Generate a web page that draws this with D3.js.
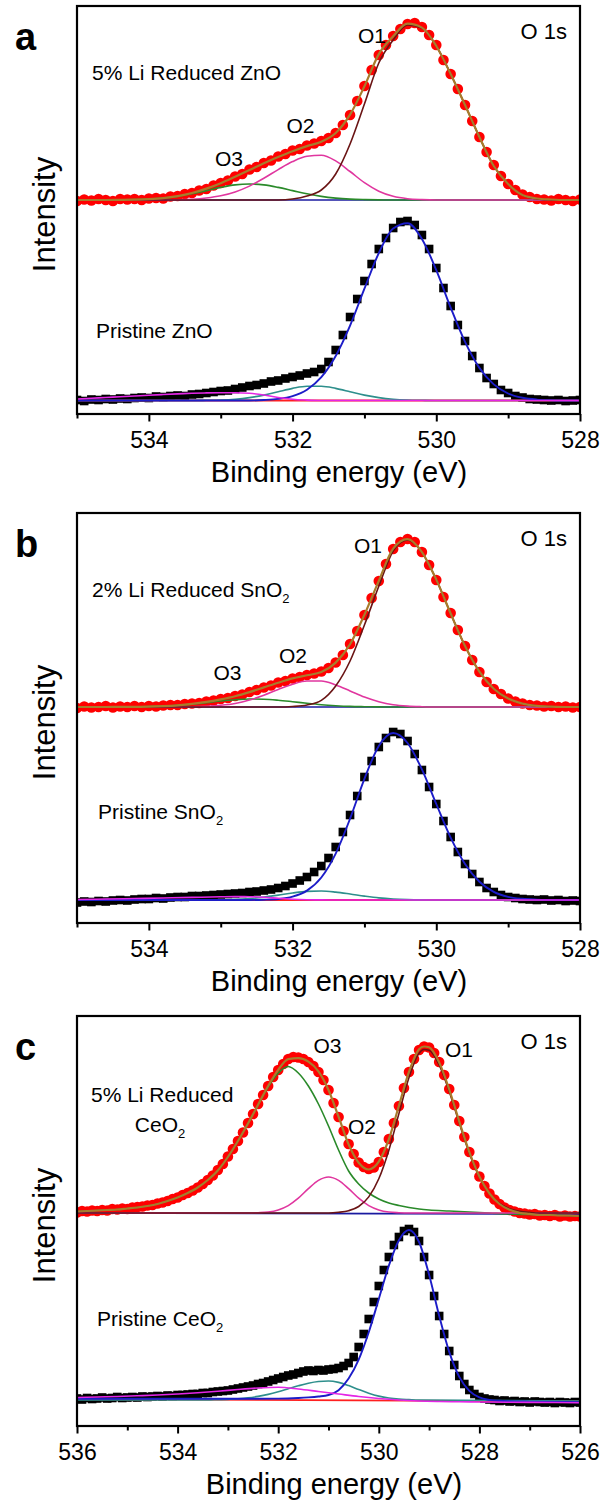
<!DOCTYPE html>
<html><head><meta charset="utf-8">
<script src="https://cdn.jsdelivr.net/npm/d3@7"></script>
<style>
html,body{margin:0;padding:0;background:#fff;}
svg{display:block;}
text{font-family:"Liberation Sans",Arial,Helvetica,sans-serif;fill:#000;}
</style></head><body>
<svg id="chart" width="603" height="1506"></svg>
<script>
// ================= DATA (intensity in arbitrary units, energy in eV) =================
const dataStep = 0.1;           // eV spacing of measured points
// ---- panel a : ZnO ----
const aStart = 535.0;
const aTopCounts = [
 21.3,21.45,21.35,21.5,21.4,21.3,21.5,21.45,21.5,21.4,
 21.55,21.6,21.55,21.75,21.8,22.0,22.1,22.35,22.5,22.85,
 23.1,23.35,23.75,24.0,24.45,24.7,25.1,25.35,25.75,26.0,
 26.35,26.5,26.85,27.05,27.3,27.6,28.1,28.9,29.9,31.3,
 32.8,34.4,35.9,36.9,37.8,38.5,39.0,39.1,38.7,37.9,
 36.9,35.4,34.0,32.5,30.9,29.3,27.7,26.2,24.9,23.8,
 23.0,22.4,21.95,21.7,21.5,21.45,21.35,21.5,21.4,21.3,
 21.45];
const aBotCounts = [
 1.4,1.3,1.45,1.4,1.5,1.45,1.55,1.5,1.6,1.65,
 1.6,1.75,1.7,1.8,1.85,1.8,1.95,2.0,2.1,2.2,
 2.3,2.35,2.5,2.65,2.8,2.9,3.05,3.25,3.35,3.55,
 3.7,3.85,4.05,4.2,4.5,5.2,6.4,7.9,9.7,11.5,
 13.3,15.0,16.5,17.6,18.6,19.2,19.3,18.9,17.9,16.5,
 14.6,12.6,10.8,8.9,7.3,5.8,4.6,3.6,3.0,2.4,
 2.1,1.8,1.65,1.5,1.45,1.4,1.35,1.4,1.3,1.35,
 1.4];
const aTopEnvelope = [[535.0,21.4],[534.6,21.4],[534.4,21.41],[534.2,21.44],[534.0,21.49],[533.8,21.59],[533.6,21.79],[533.4,22.1],[533.2,22.54],[533.0,23.08],[532.8,23.72],[532.6,24.39],[532.4,25.08],[532.2,25.7],[532.0,26.28],[531.8,26.79],[531.6,27.23],[531.4,28.1],[531.2,29.94],[531.0,32.77],[530.8,35.99],[530.6,37.77],[530.4,39.03],[530.2,38.64],[530.0,36.8],[529.8,34.0],[529.6,30.9],[529.4,27.7],[529.2,24.8],[529.0,23.0],[528.8,21.9],[528.6,21.55],[528.4,21.45],[528.2,21.4],[528.0,21.4]];
const aTopO1 = [[535.0,21.4],[532.2,21.4],[532.0,21.5],[531.8,21.8],[531.6,22.4],[531.4,24.0],[531.2,27.0],[531.0,31.0],[530.8,35.1],[530.6,37.4],[530.4,38.9],[530.2,38.6],[530.0,36.8],[529.8,34.0],[529.6,30.9],[529.4,27.7],[529.2,24.8],[529.0,23.0],[528.8,21.9],[528.6,21.5],[528.4,21.4],[528.0,21.4]];
const aTopO2 = [[535.0,21.4],[533.6,21.43],[533.4,21.48],[533.2,21.6],[533.0,21.82],[532.8,22.21],[532.6,22.79],[532.4,23.57],[532.2,24.44],[532.0,25.24],[531.8,25.77],[531.6,25.87],[531.4,25.31],[531.2,24.25],[531.0,23.13],[530.8,22.28],[530.6,21.77],[530.4,21.53],[530.2,21.44],[530.0,21.4],[528.0,21.4]];
const aTopO3 = [[535.0,21.4],[534.6,21.4],[534.4,21.41],[534.2,21.44],[534.0,21.49],[533.8,21.59],[533.6,21.76],[533.4,22.02],[533.2,22.34],[533.0,22.66],[532.8,22.91],[532.6,23.0],[532.4,22.91],[532.2,22.66],[532.0,22.34],[531.8,22.02],[531.6,21.76],[531.4,21.59],[531.2,21.49],[531.0,21.44],[530.8,21.41],[530.6,21.4],[528.0,21.4]];
const aTopBaseline = [21.4, 21.4];
const aBotMain = [[535.0,1.35],[532.6,1.35],[532.4,1.4],[532.2,1.51],[532.0,1.79],[531.8,2.43],[531.6,3.68],[531.4,5.8],[531.2,8.84],[531.0,12.53],[530.8,16.09],[530.6,18.54],[530.4,19.08],[530.2,17.51],[530.0,14.38],[529.8,10.64],[529.6,7.21],[529.4,4.61],[529.2,2.96],[529.0,2.05],[528.8,1.62],[528.6,1.44],[528.4,1.38],[528.2,1.35],[528.0,1.35]];
const aBotTeal = [[535.0,1.35],[533.4,1.35],[533.2,1.37],[533.0,1.4],[532.8,1.48],[532.6,1.64],[532.4,1.89],[532.2,2.23],[532.0,2.56],[531.8,2.77],[531.6,2.77],[531.4,2.56],[531.2,2.23],[531.0,1.89],[530.8,1.64],[530.6,1.48],[530.4,1.4],[530.2,1.37],[530.0,1.35],[528.0,1.35]];
const aBotMagenta = [[535.0,1.5],[534.8,1.57],[534.6,1.65],[534.4,1.72],[534.2,1.8],[534.0,1.88],[533.8,1.95],[533.6,2.01],[533.4,2.07],[533.2,2.11],[533.0,2.13],[532.8,2.13],[532.6,2.07],[532.4,1.9],[532.2,1.65],[532.0,1.47],[531.8,1.39],[531.6,1.35],[528.0,1.35]];
const aBotBaseline = [1.35, 1.35];
// ---- panel b : SnO2 ----
const bStart = 535.0;
const bTopCounts = [
 21.5,21.65,21.55,21.6,21.7,21.55,21.65,21.6,21.7,21.6,
 21.7,21.65,21.75,21.8,21.8,21.9,21.95,22.0,22.15,22.25,
 22.4,22.5,22.7,22.85,23.1,23.3,23.55,23.75,24.05,24.2,
 24.45,24.6,24.8,24.95,25.15,25.5,26.05,26.8,27.9,29.2,
 30.8,32.5,34.2,35.9,37.4,38.1,38.4,38.1,37.1,35.8,
 34.3,32.6,31.0,29.3,27.7,26.3,25.1,24.1,23.4,22.9,
 22.45,22.15,21.95,21.8,21.75,21.65,21.7,21.6,21.65,21.55,
 21.6];
const bBotCounts = [
 2.05,2.15,2.1,2.2,2.15,2.25,2.3,2.25,2.35,2.4,
 2.4,2.5,2.45,2.55,2.6,2.6,2.7,2.7,2.75,2.8,
 2.85,2.9,2.95,3.0,3.1,3.15,3.25,3.35,3.5,3.7,
 3.95,4.25,4.6,5.1,5.7,6.5,7.6,9.1,10.8,12.7,
 14.6,16.2,17.6,18.5,19.1,18.9,18.2,16.9,15.3,13.6,
 11.9,10.2,8.6,7.1,5.9,4.9,4.1,3.5,3.1,2.8,
 2.6,2.5,2.4,2.35,2.3,2.35,2.25,2.3,2.2,2.25,
 2.2];
const bTopEnvelope = [[535.0,21.6],[534.6,21.6],[534.4,21.61],[534.2,21.62],[534.0,21.64],[533.8,21.69],[533.6,21.77],[533.4,21.91],[533.2,22.11],[533.0,22.37],[532.8,22.68],[532.6,23.09],[532.4,23.56],[532.2,24.03],[532.0,24.46],[531.8,24.77],[531.6,25.09],[531.4,26.04],[531.2,27.87],[531.0,30.82],[530.8,34.21],[530.6,37.43],[530.4,38.38],[530.2,37.09],[530.0,34.34],[529.8,30.95],[529.6,27.7],[529.4,25.14],[529.2,23.43],[529.0,22.44],[528.8,21.94],[528.6,21.72],[528.4,21.64],[528.2,21.6],[528.0,21.6]];
const bTopO1 = [[535.0,21.6],[532.2,21.6],[532.0,21.65],[531.8,21.8],[531.6,22.26],[531.4,23.7],[531.2,26.2],[531.0,29.8],[530.8,33.67],[530.6,37.2],[530.4,38.3],[530.2,37.06],[530.0,34.34],[529.8,30.95],[529.6,27.7],[529.4,25.14],[529.2,23.43],[529.0,22.44],[528.8,21.94],[528.6,21.72],[528.4,21.64],[528.2,21.6],[528.0,21.6]];
const bTopO2 = [[535.0,21.6],[533.6,21.61],[533.4,21.62],[533.2,21.67],[533.0,21.77],[532.8,21.95],[532.6,22.29],[532.4,22.78],[532.2,23.35],[532.0,23.88],[531.8,24.2],[531.6,24.2],[531.4,23.81],[531.2,23.21],[531.0,22.59],[530.8,22.13],[530.6,21.83],[530.4,21.69],[530.2,21.63],[530.0,21.6],[528.0,21.6]];
const bTopO3 = [[535.0,21.6],[534.6,21.6],[534.4,21.61],[534.2,21.62],[534.0,21.64],[533.8,21.69],[533.6,21.77],[533.4,21.89],[533.2,22.04],[533.0,22.2],[532.8,22.33],[532.6,22.4],[532.4,22.38],[532.2,22.28],[532.0,22.13],[531.8,21.97],[531.6,21.83],[531.4,21.73],[531.2,21.66],[531.0,21.63],[530.8,21.61],[530.6,21.6],[528.0,21.6]];
const bTopBaseline = [21.6, 21.6];
const bBotMain = [[535.0,2.3],[532.6,2.3],[532.4,2.33],[532.2,2.4],[532.0,2.63],[531.8,3.24],[531.6,4.55],[531.4,6.94],[531.2,10.43],[531.0,14.42],[530.8,17.71],[530.6,19.0],[530.4,18.0],[530.2,15.36],[530.0,11.9],[529.8,8.53],[529.6,5.89],[529.4,4.12],[529.2,3.12],[529.0,2.62],[528.8,2.42],[528.6,2.34],[528.4,2.3],[528.0,2.3]];
const bBotTeal = [[535.0,2.3],[533.4,2.3],[533.2,2.31],[533.0,2.32],[532.8,2.36],[532.6,2.45],[532.4,2.59],[532.2,2.79],[532.0,3.0],[531.8,3.16],[531.6,3.2],[531.4,3.09],[531.2,2.9],[531.0,2.69],[530.8,2.51],[530.6,2.4],[530.4,2.34],[530.2,2.31],[530.0,2.3],[528.0,2.3]];
const bBotMagenta = [[535.0,2.35],[534.6,2.4],[534.2,2.45],[533.8,2.5],[533.4,2.56],[533.0,2.62],[532.8,2.64],[532.6,2.63],[532.4,2.58],[532.2,2.48],[532.0,2.38],[531.8,2.33],[531.6,2.31],[531.4,2.3],[528.0,2.3]];
const bBotBaseline = [2.3, 2.3];
// ---- panel c : CeO2 ----
const cStart = 536.0;
const cTopCounts = [
 21.35,21.5,21.45,21.55,21.5,21.6,21.55,21.7,21.65,21.75,
 21.7,21.85,21.9,21.95,22.05,22.1,22.25,22.35,22.5,22.7,
 22.85,23.1,23.3,23.55,23.85,24.2,24.6,25.05,25.6,26.2,
 26.95,27.7,28.5,29.35,30.3,31.2,32.2,33.1,34.0,34.9,
 35.6,36.2,36.7,36.9,36.85,36.7,36.4,36.0,35.4,34.6,
 33.6,32.3,30.9,29.5,28.2,27.2,26.35,25.9,25.7,25.85,
 26.4,27.4,28.7,30.3,32.0,33.8,35.4,36.7,37.6,37.95,
 37.85,37.3,36.4,35.1,33.7,32.1,30.5,28.9,27.4,26.1,
 24.95,24.0,23.25,22.65,22.2,21.85,21.6,21.45,21.3,21.25,
 21.15,21.2,21.05,21.1,21.0,21.1,20.95,21.05,20.95,21.0,
 20.95];
const cBotCounts = [
 2.75,2.65,2.8,2.7,2.75,2.85,2.75,2.8,2.9,2.8,
 2.85,2.9,2.85,2.95,2.9,2.95,3.0,2.95,3.05,3.0,
 3.1,3.1,3.15,3.2,3.2,3.3,3.3,3.4,3.45,3.5,
 3.55,3.65,3.75,3.85,3.95,4.05,4.2,4.3,4.45,4.6,
 4.75,4.9,5.05,5.15,5.3,5.45,5.55,5.5,5.6,5.55,
 5.65,5.7,5.8,6.0,6.3,6.9,7.9,9.2,10.7,12.4,
 14.0,15.6,16.9,18.1,18.9,19.5,19.7,19.4,18.5,16.9,
 15.1,13.0,11.0,9.2,7.5,6.1,5.0,4.2,3.6,3.2,
 2.9,2.75,2.65,2.6,2.5,2.55,2.45,2.5,2.4,2.45,
 2.35,2.45,2.4,2.35,2.4,2.3,2.4,2.35,2.3,2.4,
 2.35];
const cTopEnvelope = [[536.0,21.45],[535.8,21.5],[535.6,21.55],[535.4,21.6],[535.2,21.65],[535.0,21.75],[534.8,21.85],[534.6,22.0],[534.4,22.2],[534.2,22.5],[534.0,22.85],[533.8,23.3],[533.6,23.85],[533.4,24.6],[533.2,25.55],[533.0,26.9],[532.8,28.5],[532.6,30.25],[532.4,32.13],[532.2,34.0],[532.0,35.61],[531.8,36.69],[531.6,36.78],[531.4,36.43],[531.2,35.46],[531.0,33.6],[530.8,30.93],[530.6,28.16],[530.4,26.33],[530.2,25.65],[530.0,26.43],[529.8,28.68],[529.6,32.02],[529.4,35.41],[529.2,37.67],[529.1,37.95],[529.0,37.87],[528.8,36.36],[528.6,33.65],[528.4,30.44],[528.2,27.39],[528.0,24.95],[527.8,23.25],[527.6,22.2],[527.4,21.62],[527.2,21.32],[527.0,21.21],[526.8,21.1],[526.6,21.1],[526.4,21.05],[526.2,21.05],[526.0,21.0]];
const cTopO1 = [[536.0,21.3],[531.0,21.3],[530.8,21.37],[530.6,21.53],[530.4,21.95],[530.2,22.91],[530.0,24.72],[529.8,27.58],[529.6,31.24],[529.4,34.86],[529.2,37.27],[529.1,37.65],[529.0,37.57],[528.8,36.11],[528.6,33.45],[528.4,30.29],[528.2,27.29],[528.0,24.9],[527.8,23.25],[527.6,22.25],[527.4,21.72],[527.2,21.47],[527.0,21.36],[526.8,21.3],[526.0,21.3]];
const cTopO2 = [[536.0,21.3],[532.6,21.3],[532.4,21.33],[532.2,21.4],[532.0,21.61],[531.8,22.04],[531.6,22.78],[531.4,23.73],[531.2,24.56],[531.0,24.9],[530.8,24.56],[530.6,23.73],[530.4,22.78],[530.2,22.04],[530.0,21.61],[529.8,21.4],[529.6,21.33],[529.4,21.3],[526.0,21.3]];
const cTopO3 = [[536.0,21.45],[535.8,21.5],[535.6,21.55],[535.4,21.6],[535.2,21.65],[535.0,21.75],[534.8,21.85],[534.6,22.0],[534.4,22.2],[534.2,22.5],[534.0,22.85],[533.8,23.3],[533.6,23.85],[533.4,24.6],[533.2,25.55],[533.0,26.9],[532.8,28.5],[532.6,30.25],[532.4,32.1],[532.2,33.9],[532.0,35.3],[531.8,35.95],[531.6,35.3],[531.4,34.0],[531.2,32.2],[531.0,30.0],[530.8,27.6],[530.6,25.5],[530.4,24.2],[530.2,23.3],[530.0,22.7],[529.8,22.3],[529.6,22.05],[529.4,21.85],[529.2,21.7],[529.0,21.6],[528.6,21.5],[528.2,21.4],[527.8,21.3],[527.4,21.2],[527.0,21.15],[526.6,21.1],[526.0,21.0]];
const cTopBaseline = [21.3, 21.2];
const cBotMain = [[536.0,2.72],[533.0,2.72],[532.0,2.74],[531.6,2.8],[531.4,2.86],[531.2,2.95],[531.0,3.1],[530.8,3.58],[530.6,4.74],[530.4,6.64],[530.2,9.38],[530.0,12.7],[529.8,16.04],[529.6,18.58],[529.4,19.6],[529.2,18.4],[529.0,15.12],[528.8,11.03],[528.6,7.41],[528.4,4.91],[528.2,3.51],[528.0,2.86],[527.8,2.61],[527.6,2.52],[527.4,2.48],[527.0,2.44],[526.0,2.38]];
const cBotTeal = [[536.0,2.6],[533.4,2.6],[533.2,2.63],[533.0,2.66],[532.8,2.72],[532.6,2.81],[532.4,2.96],[532.2,3.16],[532.0,3.42],[531.8,3.72],[531.6,4.02],[531.4,4.28],[531.2,4.45],[531.0,4.5],[530.8,4.36],[530.6,4.04],[530.4,3.65],[530.2,3.28],[530.0,2.99],[529.8,2.8],[529.6,2.69],[529.4,2.64],[529.2,2.6],[526.0,2.5]];
const cBotMagenta = [[536.0,2.85],[535.6,2.9],[535.2,2.95],[534.8,3.02],[534.4,3.1],[534.0,3.2],[533.6,3.32],[533.2,3.47],[532.8,3.65],[532.4,3.8],[532.0,3.87],[531.6,3.7],[531.2,3.45],[530.8,3.2],[530.4,2.95],[530.0,2.75],[529.6,2.6],[529.2,2.5],[528.8,2.45],[528.4,2.42],[528.0,2.4],[527.0,2.36],[526.0,2.33]];
const cBotBaseline = [2.7, 2.45];
// ---- axes / labels ----
const abMajorTicks = [534, 532, 530, 528];
const abMinorTicks = [535, 533, 531, 529];
const cMajorTicks = [536, 534, 532, 530, 528, 526];
const cMinorTicks = [535, 533, 531, 529, 527];
const panelLetters = ["a", "b", "c"];
const reducedLabels = ["5% Li Reduced ZnO", "2% Li Reduced SnO", "5% Li Reduced"];
const pristineLabels = [["Pristine ZnO", ""], ["Pristine SnO", "2"], ["Pristine CeO", "2"]];
const peakNames = ["O1", "O2", "O3"];
const coreLevel = "O 1s";
const xTitle = "Binding energy (eV)";
const yTitle = "Intensity";

// ================= DRAWING =================
const svg = d3.select('#chart');
const X0 = 77, X1 = 580;
const C = {red:'#ff0000', env:'#a87c2c', o1:'#6a1414', o2:'#e0369f', o3:'#2a8a2a', base:'#1a1aa0',
           main:'#1c1cc8', teal:'#2e8f8c', mag:'#e426e6', redBase:'#ff2020'};

const panels = [
  {i:0, top:6, bottom:414, yMax:40.8, domain:[535,528], start:aStart, major:abMajorTicks, minor:abMinorTicks,
   topCounts:aTopCounts, botCounts:aBotCounts, env:aTopEnvelope, o1:aTopO1, o2:aTopO2, o3:aTopO3, topBase:aTopBaseline,
   main:aBotMain, teal:aBotTeal, mag:aBotMagenta, botBase:aBotBaseline,
   titleX:339, redPos:[92,80], priPos:[96,338], oPos:[[358,43.3],[286.5,133.3],[215,165.7]]},
  {i:1, top:513, bottom:923, yMax:41, domain:[535,528], start:bStart, major:abMajorTicks, minor:abMinorTicks,
   topCounts:bTopCounts, botCounts:bBotCounts, env:bTopEnvelope, o1:bTopO1, o2:bTopO2, o3:bTopO3, topBase:bTopBaseline,
   main:bBotMain, teal:bBotTeal, mag:bBotMagenta, botBase:bBotBaseline,
   titleX:339, redPos:[92,597], priPos:[98,819], oPos:[[354,553.3],[279,662.7],[213.5,680]]},
  {i:2, top:1016, bottom:1426, yMax:41, domain:[536,526], start:cStart, major:cMajorTicks, minor:cMinorTicks,
   topCounts:cTopCounts, botCounts:cBotCounts, env:cTopEnvelope, o1:cTopO1, o2:cTopO2, o3:cTopO3, topBase:cTopBaseline,
   main:cBotMain, teal:cBotTeal, mag:cBotMagenta, botBase:cBotBaseline,
   titleX:334, redPos:[91,1102], priPos:[97,1326], oPos:[[445,1056.7],[348,1134],[313.5,1052.7]]}
];

const defs = svg.append('defs');

panels.forEach(p => {
  const x = d3.scaleLinear().domain(p.domain).range([X0, X1]);
  const y = d3.scaleLinear().domain([0, p.yMax]).range([p.bottom, p.top]);
  const line = d3.line().x(d => x(d[0])).y(d => y(d[1])).curve(d3.curveMonotoneX);
  const clipId = 'clip' + p.i;
  defs.append('clipPath').attr('id', clipId).append('rect')
    .attr('x', X0).attr('y', p.top).attr('width', X1 - X0).attr('height', p.bottom - p.top);
  const plot = svg.append('g').attr('clip-path', `url(#${clipId})`);

  const path = (pts, color, w) => plot.append('path').datum(pts).attr('d', line)
      .attr('fill', 'none').attr('stroke', color).attr('stroke-width', w).attr('stroke-linejoin', 'round');

  // ----- pristine (bottom) spectrum -----
  const botPts = p.botCounts.map((v, k) => [p.start - k * dataStep, v]);
  plot.append('g').selectAll('rect').data(botPts).join('rect')
    .attr('x', d => x(d[0]) - 4.3).attr('y', d => y(d[1]) - 4.3)
    .attr('width', 8.6).attr('height', 8.6).attr('fill', '#000');
  path([[p.domain[0], p.botBase[0]], [p.domain[1], p.botBase[1]]], C.redBase, 1.8);
  path(p.teal, C.teal, 1.6);
  path(p.main, C.main, 1.9);
  path(p.mag, C.mag, 1.6);

  // ----- Li reduced (top) spectrum -----
  const topPts = p.topCounts.map((v, k) => [p.start - k * dataStep, v]);
  plot.append('g').selectAll('circle').data(topPts).join('circle')
    .attr('cx', d => x(d[0])).attr('cy', d => y(d[1])).attr('r', 5.3).attr('fill', C.red);
  path([[p.domain[0], p.topBase[0]], [p.domain[1], p.topBase[1]]], C.base, 1.6);
  path(p.o3, C.o3, 1.6);
  path(p.o2, C.o2, 1.6);
  path(p.o1, C.o1, 1.6);
  path(p.env, C.env, 2.2);

  // ----- frame -----
  svg.append('rect').attr('x', X0).attr('y', p.top).attr('width', X1 - X0).attr('height', p.bottom - p.top)
    .attr('fill', 'none').attr('stroke', '#000').attr('stroke-width', 2.2);

  // ----- x axis -----
  const ax = svg.append('g').attr('transform', `translate(0,${p.bottom})`)
    .call(d3.axisBottom(x).tickValues(p.major).tickSize(7.5).tickFormat(d3.format('d')));
  ax.select('.domain').remove();
  ax.selectAll('line').attr('stroke', '#000').attr('stroke-width', 2);
  ax.selectAll('text').attr('y', 34).attr('dy', 0).attr('font-size', 23)
    .style('font-family', '"Liberation Sans",Arial,sans-serif').attr('fill', '#000');
  const axm = svg.append('g').attr('transform', `translate(0,${p.bottom})`)
    .call(d3.axisBottom(x).tickValues(p.minor).tickSize(4.5).tickFormat(''));
  axm.select('.domain').remove();
  axm.selectAll('line').attr('stroke', '#000').attr('stroke-width', 2);

  // ----- texts -----
  svg.append('text').attr('x', p.titleX).attr('y', p.bottom + 68).attr('text-anchor', 'middle')
    .attr('font-size', 29).text(xTitle);
  svg.append('text').attr('transform', `translate(55,${(p.top + p.bottom) / 2 + 4.5}) rotate(-90)`)
    .attr('text-anchor', 'middle').attr('font-size', 31).text(yTitle);
  svg.append('text').attr('x', 15).attr('y', p.top + 44).attr('font-size', 38).attr('font-weight', 'bold')
    .text(panelLetters[p.i]);
  svg.append('text').attr('x', 567).attr('y', p.top + 33.3).attr('text-anchor', 'end')
    .attr('font-size', 22).text(coreLevel);
  peakNames.forEach((n, k) => {
    svg.append('text').attr('x', p.oPos[k][0]).attr('y', p.oPos[k][1]).attr('font-size', 21).text(n);
  });
  // reduced sample label
  const rt = svg.append('text').attr('x', p.redPos[0]).attr('y', p.redPos[1]).attr('font-size', 21)
    .text(reducedLabels[p.i]);
  if (p.i === 1) {
    rt.append('tspan').attr('font-size', 13).attr('dy', 6).text('2');
  }
  if (p.i === 2) {
    const ce = svg.append('text').attr('x', 160).attr('y', 1132.3).attr('text-anchor', 'middle').attr('font-size', 21);
    ce.append('tspan').text('CeO');
    ce.append('tspan').attr('font-size', 13).attr('dy', 6).text('2');
  }
  const pt = svg.append('text').attr('x', p.priPos[0]).attr('y', p.priPos[1]).attr('font-size', 21);
  pt.append('tspan').text(pristineLabels[p.i][0]);
  if (pristineLabels[p.i][1]) pt.append('tspan').attr('font-size', 13).attr('dy', 6).text(pristineLabels[p.i][1]);
});
</script></body></html>
